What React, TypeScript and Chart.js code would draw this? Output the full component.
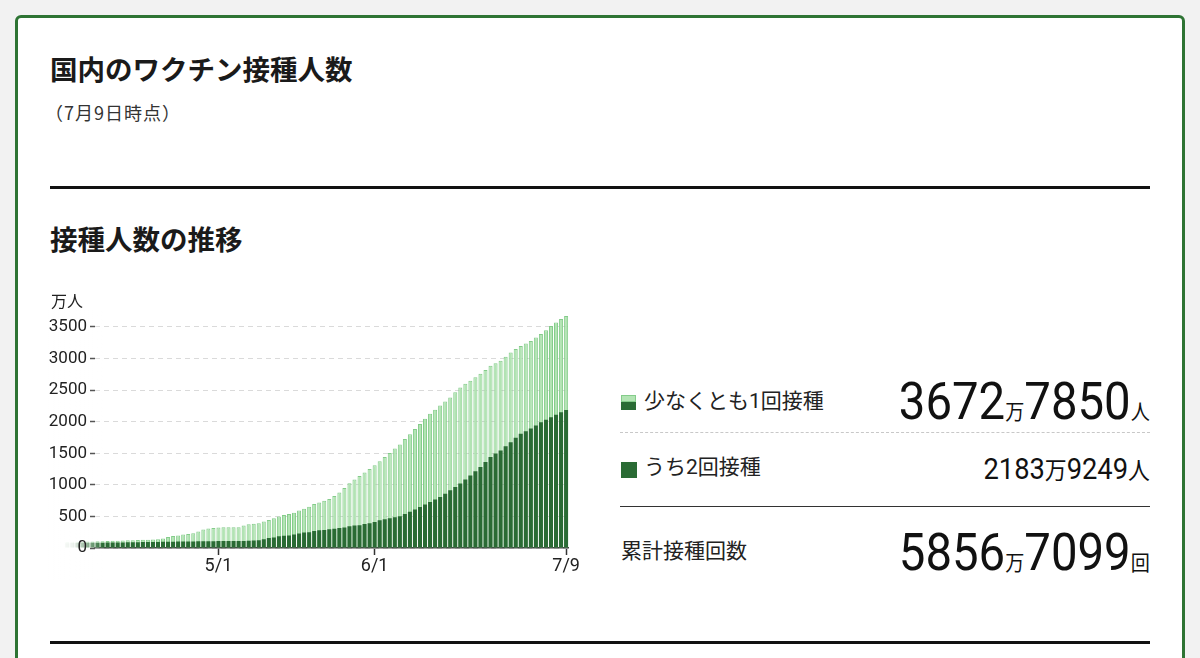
import React, { useEffect, useRef } from 'react';
import Chart from 'chart.js/auto';

// 日付ラベル (4/1 〜 7/9)
const MONTH_DAYS: [number, number][] = [[4, 30], [5, 31], [6, 30], [7, 9]];
const DATES: string[] = [];
MONTH_DAYS.forEach(([m, n]) => {
  for (let d = 1; d <= n; d++) DATES.push(`${m}/${d}`);
});

const TICK_LABELS = ['5/1', '6/1', '7/9'];
const FIRST_VISIBLE = '4/7';
const Y_MAX = 3750;
const Y_TICKS = [0, 500, 1000, 1500, 2000, 2500, 3000, 3500];

// 少なくとも1回接種 (万人)
const FIRST_DOSE = [
  95, 97, 98, 100, 101, 103, 105, 108, 110, 113,
  116, 119, 121, 124, 127, 130, 132, 134, 137, 150,
  175, 192, 198, 215, 222, 235, 262, 292, 308, 318,
  326, 327, 327, 328, 329, 355, 378, 386, 390, 418,
  445, 470, 497, 522, 540, 560, 592, 622, 655, 695,
  722, 748, 775, 825, 878, 950, 1025, 1085, 1140, 1195,
  1250, 1310, 1375, 1440, 1505, 1575, 1640, 1725, 1800, 1885,
  1965, 2045, 2125, 2190, 2255, 2320, 2385, 2465, 2543, 2600,
  2648, 2705, 2758, 2820, 2885, 2925, 2964, 3030, 3095, 3150,
  3200, 3240, 3280, 3335, 3390, 3450, 3516, 3570, 3626, 3673,
];

// うち2回接種 (万人)
const SECOND_DOSE = [
  76, 79, 80, 82, 82, 84, 85, 85, 87, 88,
  89, 89, 91, 92, 92, 94, 95, 96, 96, 98,
  99, 99, 101, 102, 102, 104, 105, 106, 107, 108,
  109, 110, 110, 111, 111, 112, 114, 118, 124, 140,
  160, 165, 185, 193, 196, 214, 230, 245, 250, 268,
  282, 286, 296, 305, 318, 326, 345, 355, 362, 380,
  392, 410, 441, 455, 473, 488, 504, 540, 573, 610,
  651, 690, 730, 770, 809, 860, 914, 965, 1020, 1085,
  1150, 1215, 1282, 1360, 1440, 1495, 1545, 1610, 1676, 1745,
  1808, 1850, 1892, 1940, 1992, 2030, 2070, 2110, 2149, 2184,
];

const FIRST_TOTAL = ['3672', '7850'];
const SECOND_TOTAL = ['2183', '9249'];
const SHOTS_TOTAL = ['5856', '7099'];

const CJK = "'Noto Sans CJK JP', 'Noto Sans', sans-serif";
const NUM = "Roboto, 'Noto Sans CJK JP', sans-serif";

const LIGHT = '#b2e4b3';
const LIGHT_EDGE = '#84cc8a';
const DARK = '#2a6b34';

const fixedTicks = (s: any) => {
  s.ticks = Y_TICKS.map((value) => ({ value }));
};

// 左端を白くぼかす
const leftFade = {
  id: 'leftFade',
  afterDatasetsDraw(chart: any) {
    const { ctx, chartArea } = chart;
    const w = chartArea.left + 8;
    const g = ctx.createLinearGradient(0, 0, w, 0);
    g.addColorStop(0, 'rgba(255,255,255,1)');
    g.addColorStop(0.45, 'rgba(255,255,255,0.92)');
    g.addColorStop(1, 'rgba(255,255,255,0)');
    ctx.save();
    ctx.fillStyle = g;
    ctx.fillRect(0, chartArea.top - 2, w, chart.height);
    ctx.restore();
  },
};

const Amount = ({ parts, unit, digitSize, unitSize, top }: any) => (
  <div
    style={{
      position: 'absolute',
      right: 50,
      top,
      display: 'flex',
      alignItems: 'baseline',
      lineHeight: 1,
      whiteSpace: 'nowrap',
      color: '#111',
      transform: 'scaleX(0.91)',
      transformOrigin: 'right center',
    }}
  >
    <span style={{ fontFamily: NUM, fontSize: digitSize }}>{parts[0]}</span>
    <span style={{ fontFamily: CJK, fontSize: unitSize }}>万</span>
    <span style={{ fontFamily: NUM, fontSize: digitSize }}>{parts[1]}</span>
    <span style={{ fontFamily: CJK, fontSize: unitSize }}>{unit}</span>
  </div>
);

const label = (text: string, left: number, top: number) => (
  <div style={{ position: 'absolute', left, top, fontFamily: NUM, fontSize: 21, lineHeight: '21px', color: '#222', whiteSpace: 'nowrap' }}>
    {text}
  </div>
);

export default function App() {
  const canvasRef = useRef<HTMLCanvasElement>(null);

  useEffect(() => {
    if (!canvasRef.current) return;
    const chart = new Chart(canvasRef.current, {
      type: 'bar',
      data: {
        labels: DATES,
        datasets: [
          {
            label: '少なくとも1回接種',
            data: FIRST_DOSE,
            backgroundColor: LIGHT,
            borderColor: LIGHT_EDGE,
            borderWidth: 1,
            grouped: false,
            barPercentage: 1,
            categoryPercentage: 0.8,
            order: 2,
            clip: { left: 50, top: 0, right: 0, bottom: 0 },
          } as any,
          {
            label: 'うち2回接種',
            data: SECOND_DOSE,
            backgroundColor: DARK,
            borderWidth: 0,
            grouped: false,
            barPercentage: 1,
            categoryPercentage: 0.8,
            order: 1,
            clip: { left: 50, top: 0, right: 0, bottom: 0 },
          } as any,
        ],
      },
      options: {
        animation: false,
        responsive: true,
        maintainAspectRatio: false,
        layout: { padding: { top: 0, right: 12, left: 0, bottom: 0 } },
        plugins: { legend: { display: false }, tooltip: { enabled: false } },
        scales: {
          x: {
            type: 'category',
            min: FIRST_VISIBLE,
            offset: true,
            grid: {
              offset: false,
              drawOnChartArea: false,
              tickLength: 7,
              tickWidth: 1.5,
              tickColor: (c: any) => (TICK_LABELS.includes(DATES[c.tick?.value]) ? '#333' : 'rgba(0,0,0,0)'),
            },
            border: { display: true, color: '#444', width: 1.5 },
            ticks: {
              autoSkip: false,
              maxRotation: 0,
              padding: 1,
              color: '#222',
              font: { family: 'Roboto', size: 18 },
              callback: (v: any) => (TICK_LABELS.includes(DATES[v]) ? DATES[v] : ''),
            },
            afterFit: (s: any) => { s.height = 32; },
          },
          y: {
            position: 'left',
            min: 0,
            max: Y_MAX,
            afterBuildTicks: fixedTicks,
            grid: { drawOnChartArea: false, tickLength: 5, tickColor: '#555', tickWidth: 1.5, z: 1 },
            border: { display: false },
            ticks: {
              padding: 3,
              color: '#222',
              font: { family: 'Roboto', size: 17 },
              z: 1,
              callback: (v: any) => String(v),
            },
            afterFit: (s: any) => { s.width = 47; },
          },
          yGrid: {
            position: 'right',
            min: 0,
            max: Y_MAX,
            afterBuildTicks: fixedTicks,
            grid: { color: '#dadada', lineWidth: 1, drawTicks: false },
            border: { display: false, dash: [5, 4] },
            ticks: { display: false },
            afterFit: (s: any) => { s.width = 0; },
          },
        },
      } as any,
      plugins: [leftFade],
    });
    return () => chart.destroy();
  }, []);

  return (
    <div style={{ position: 'absolute', left: 0, top: 0, width: 1200, height: 658, overflow: 'hidden', background: '#f2f2f2' }}>
      <div
        style={{
          position: 'absolute', left: 15, top: 15, width: 1170, height: 700,
          boxSizing: 'border-box', border: '3px solid #2e7434', borderRadius: 6, background: '#fff',
        }}
      />
      <div style={{ position: 'absolute', left: 50, top: 55, fontFamily: CJK, fontWeight: 700, fontSize: 27.5, lineHeight: '27.5px', color: '#1a1a1a' }}>
        国内のワクチン接種人数
      </div>
      <div style={{ position: 'absolute', left: 45, top: 103, fontFamily: CJK, fontSize: 18, lineHeight: '18px', letterSpacing: 1, color: '#333' }}>
        （7月9日時点）
      </div>
      <div style={{ position: 'absolute', left: 50, top: 186, width: 1100, height: 3, background: '#111' }} />
      <div style={{ position: 'absolute', left: 50, top: 225, fontFamily: CJK, fontWeight: 700, fontSize: 27.5, lineHeight: '27.5px', color: '#1a1a1a' }}>
        接種人数の推移
      </div>

      <div style={{ position: 'absolute', left: 48, top: 298, width: 533, height: 282 }}>
        <canvas ref={canvasRef} />
      </div>
      <div style={{ position: 'absolute', left: 51, top: 292, fontFamily: CJK, fontSize: 16, lineHeight: '16px', color: '#222' }}>
        万人
      </div>

      {/* 右側の凡例と合計 */}
      <div style={{ position: 'absolute', left: 621, top: 395, width: 15, height: 15, boxSizing: 'border-box', background: DARK }}>
        <div style={{ width: 15, height: 7, boxSizing: 'border-box', background: LIGHT, border: `1px solid ${LIGHT_EDGE}` }} />
      </div>
      {label('少なくとも1回接種', 644, 391)}
      <Amount parts={FIRST_TOTAL} unit="人" digitSize={52} unitSize={21} top={376} />

      <div style={{ position: 'absolute', left: 620, top: 432, width: 530, borderTop: '1px dashed #c8c8c8' }} />

      <div style={{ position: 'absolute', left: 621, top: 462, width: 16, height: 16, background: DARK }} />
      {label('うち2回接種', 644, 457)}
      <Amount parts={SECOND_TOTAL} unit="人" digitSize={30} unitSize={24} top={454} />

      <div style={{ position: 'absolute', left: 620, top: 506, width: 530, borderTop: '1px solid #333' }} />

      {label('累計接種回数', 621, 541)}
      <Amount parts={SHOTS_TOTAL} unit="回" digitSize={52} unitSize={21} top={527} />

      <div style={{ position: 'absolute', left: 50, top: 641, width: 1100, height: 3, background: '#111' }} />
    </div>
  );
}
